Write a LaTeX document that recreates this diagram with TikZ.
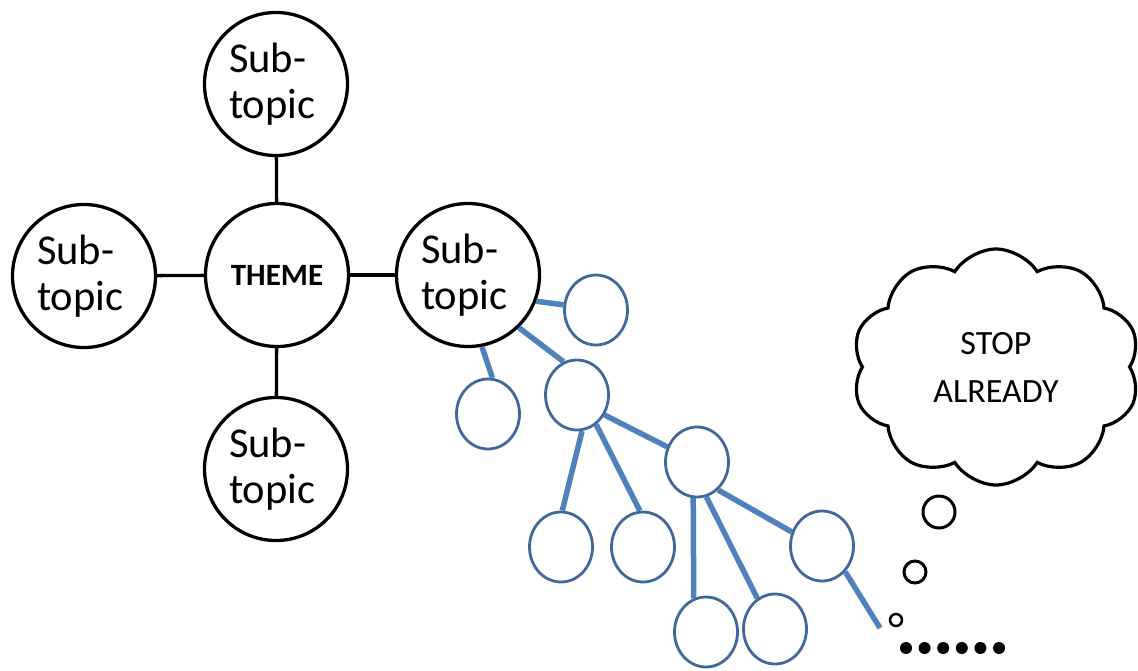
\documentclass[tikz,border=0pt]{standalone}
\usepackage{fontspec}
\setmainfont{Carlito}
\usetikzlibrary{shapes.geometric,shapes.symbols}
\definecolor{lineblue}{HTML}{4F81BD}
\definecolor{ellblue}{HTML}{41689A}
\begin{document}
\begin{tikzpicture}[x=1pt,y=-1pt,
  topic/.style={circle,draw,line width=3.3pt,minimum size=143pt,inner sep=0pt,align=left,text width=94pt,font=\fontsize{42.5}{46}\selectfont},
  link/.style={line width=3.3pt},
  leaf/.style={ellipse,draw=ellblue,fill=white,line width=2.8pt,inner sep=0pt,minimum width=63pt,minimum height=70pt},
  branch/.style={draw=lineblue,line width=5.5pt},
  bubble/.style={circle,draw,line width=3pt,inner sep=0pt},
  dot/.style={circle,fill,inner sep=0pt,minimum size=12pt}]
\useasboundingbox[fill=white] (0,0) rectangle (1138,670);
% main circles
\node[topic] (top) at (276,84) {Sub-\\topic};
\node[topic,text width=,align=center,font=\fontsize{31}{34}\selectfont\bfseries] (theme) at (277,275) {THEME};
\node[topic] (left) at (84,276) {Sub-\\topic};
\node[topic] (right) at (468,275) {Sub-\\topic};
\node[topic] (bottom) at (276,469) {Sub-\\topic};
\draw[link] (top) -- (theme);
\draw[link] (left) -- (theme);
\draw[link] (right) -- (theme);
\draw[link] (bottom) -- (theme);
% blue tree
\node[leaf] (A) at (596,310) {};
\node[leaf] (B) at (488,414) {};
\node[leaf] (C) at (577,395) {};
\node[leaf] (D) at (697,462) {};
\node[leaf] (E) at (561,547) {};
\node[leaf] (F) at (643,547) {};
\node[leaf] (G) at (822,546) {};
\node[leaf] (H) at (706,632) {};
\node[leaf] (I) at (775,629) {};
\coordinate (tail) at (880,628);
\draw[branch] (right.-21) -- (A.171);
\draw[branch] (right.-79) -- (B.83);
\draw[branch] (right.-46) -- (C.112);
\draw[branch] (C.-36) -- (D.153);
\draw[branch] (C.-82) -- (E.88);
\draw[branch] (C.-57) -- (F.95);
\draw[branch] (D.-53) -- (G.155);
\draw[branch] (D.-96) -- (H.110);
\draw[branch] (D.-75) -- (I.120);
\draw[branch] (G.-48) -- (tail);
% thought bubbles
\node[bubble,minimum size=32pt] (b1) at (939,512) {};
\node[bubble,minimum size=22pt] (b2) at (915,572) {};
\node[bubble,minimum size=12pt,line width=2.5pt] (b3) at (896,620) {};
\foreach \i in {0,...,5} \node[dot] (d\i) at (906+18.6*\i,648) {};
% cloud
\node[cloud,draw,line width=3.2pt,cloud puffs=10,cloud puff arc=115,minimum width=288pt,minimum height=236pt,align=center,inner sep=0pt,font=\fontsize{34}{48}\selectfont] (cloud) at (996,367) {STOP\\ALREADY};
\end{tikzpicture}
\end{document}
